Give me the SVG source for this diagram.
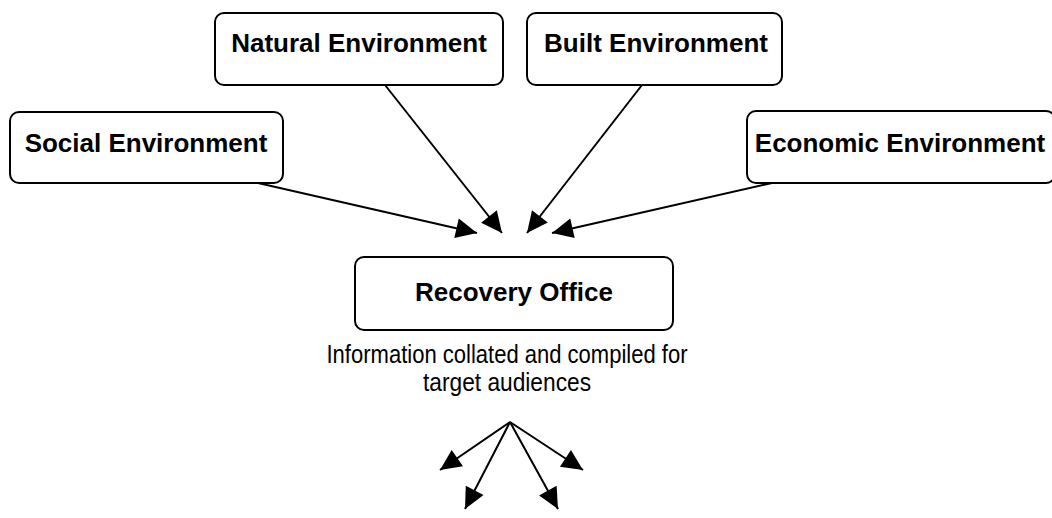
<svg xmlns="http://www.w3.org/2000/svg" width="1052" height="518" viewBox="0 0 1052 518">
  <style>
    .box { fill: #ffffff; stroke: #000000; stroke-width: 2; }
    .title { font-family: "Liberation Sans", Arial, Helvetica, sans-serif; font-weight: bold; font-size: 26px; fill: #000000; text-anchor: middle; }
    .note { font-family: "Liberation Sans", Arial, Helvetica, sans-serif; font-size: 25px; fill: #000000; text-anchor: middle; }
    .link { fill: none; stroke: #000000; stroke-width: 2; marker-end: url(#arrow); }
  </style>
  <defs>
    <marker id="arrow" markerUnits="userSpaceOnUse" markerWidth="23" markerHeight="21" refX="21" refY="10" orient="auto" overflow="visible">
      <path d="M0,0 L21,10 L0,20 Z" fill="#000000"/>
    </marker>
  </defs>
  <rect width="1052" height="518" fill="#ffffff"/>

  <g id="social-environment">
    <rect class="box" x="10" y="112" width="273" height="71" rx="9"/>
    <text class="title" x="146" y="152">Social Environment</text>
  </g>

  <g id="natural-environment">
    <rect class="box" x="215" y="13" width="288" height="72" rx="9"/>
    <text class="title" x="359" y="52">Natural Environment</text>
  </g>

  <g id="built-environment">
    <rect class="box" x="527" y="13" width="255" height="72" rx="9"/>
    <text class="title" x="656" y="52">Built Environment</text>
  </g>

  <g id="economic-environment">
    <rect class="box" x="747" y="111" width="308" height="72" rx="9"/>
    <text class="title" x="900" y="152">Economic Environment</text>
  </g>

  <g id="recovery-office">
    <rect class="box" x="355" y="257" width="318" height="73" rx="9"/>
    <text class="title" x="514" y="301">Recovery Office</text>
    <text class="note" x="507" y="363" textLength="361" lengthAdjust="spacingAndGlyphs">Information collated and compiled for</text>
    <text class="note" x="507" y="391" textLength="168" lengthAdjust="spacingAndGlyphs">target audiences</text>
  </g>

  <g id="connectors">
    <line class="link" x1="258" y1="183" x2="477" y2="233"/>
    <line class="link" x1="385" y1="85" x2="502" y2="233"/>
    <line class="link" x1="642" y1="85" x2="527" y2="233"/>
    <line class="link" x1="772" y1="183" x2="552" y2="233"/>
    <line class="link" x1="510" y1="422" x2="440" y2="470"/>
    <line class="link" x1="510" y1="422" x2="465" y2="509"/>
    <line class="link" x1="510" y1="422" x2="558" y2="509"/>
    <line class="link" x1="510" y1="422" x2="583" y2="470"/>
  </g>
</svg>
